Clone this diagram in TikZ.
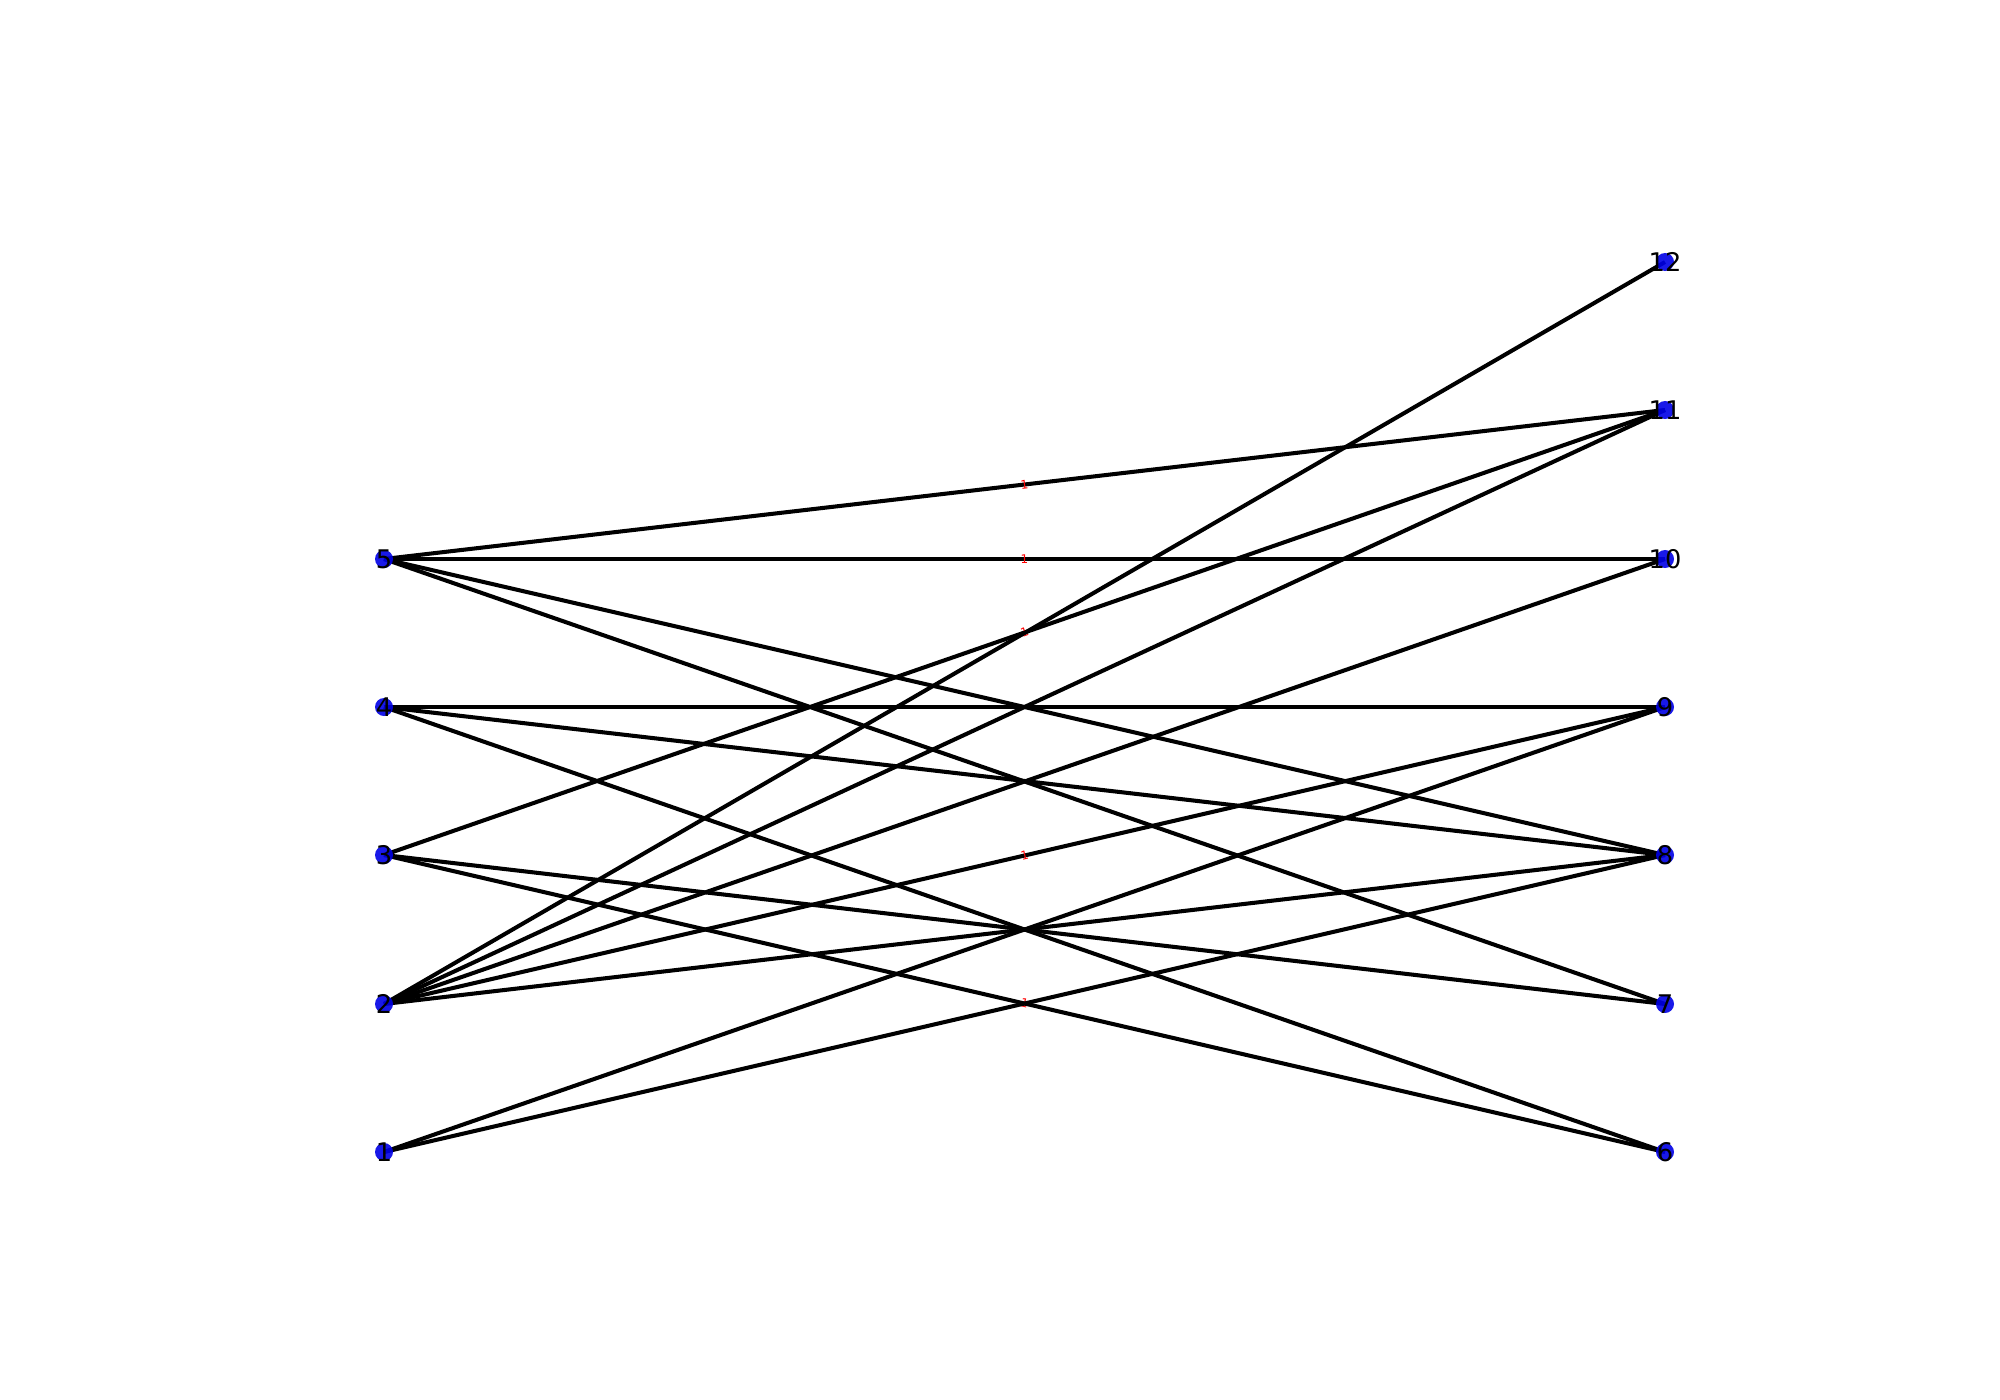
\documentclass[tikz,border=0pt]{standalone}
\usepackage{fontspec}
\setmainfont{DejaVu Sans}
\begin{document}
\begin{tikzpicture}[x=0.01cm,y=-0.01cm,
  vert/.style={circle,fill=blue!90!black,opacity=0.9,inner sep=0pt,minimum size=0.18cm},
  vlab/.style={font=\fontsize{7.3}{8}\selectfont,inner sep=0pt,text=black},
  edge/.style={line width=1.15pt,black},
  elab/.style={font=\fontsize{3.4}{4}\selectfont,text=red,inner sep=0pt,sloped}]
\useasboundingbox (0,0) rectangle (2000,1400);
% vertices
\foreach \n/\x/\y in {1/384/1152,2/384/1004,3/384/855,4/384/707,5/384/559,
  6/1665/1152,7/1665/1004,8/1665/855,9/1665/707,10/1665/559,11/1665/410,12/1665/262}{
  \coordinate (v\n) at (\x,\y);
}
% edges
\draw[edge] (v5) -- node[elab]{1} (v11);
\draw[edge] (v5) -- node[elab]{1} (v10);
\draw[edge] (v5) -- (v8);
\draw[edge] (v5) -- (v7);
\draw[edge] (v4) -- (v9);
\draw[edge] (v4) -- (v8);
\draw[edge] (v4) -- (v6);
\draw[edge] (v3) -- node[elab]{1} (v11);
\draw[edge] (v3) -- (v7);
\draw[edge] (v3) -- node[elab]{1} (v6);
\draw[edge] (v2) -- (v12);
\draw[edge] (v2) -- (v11);
\draw[edge] (v2) -- (v10);
\draw[edge] (v2) -- node[elab]{1} (v9);
\draw[edge] (v2) -- (v8);
\draw[edge] (v1) -- (v9);
\draw[edge] (v1) -- (v8);
% nodes
\foreach \n in {1,...,12}{
  \node[vert] (c\n) at (v\n) {};
  \node[vlab] (t\n) at (v\n) {\n};
}
\end{tikzpicture}
\end{document}
